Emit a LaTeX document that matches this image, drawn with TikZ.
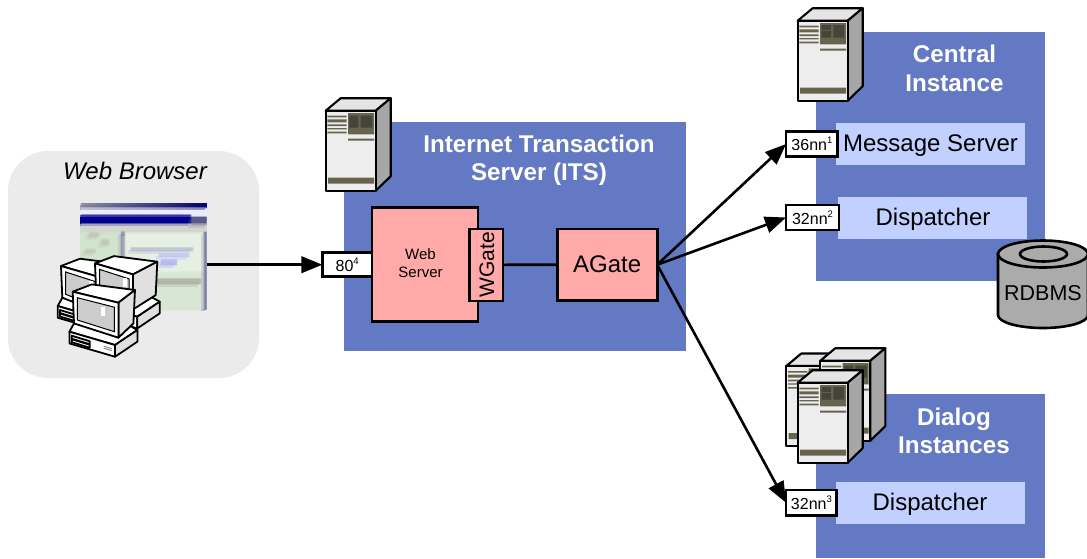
\documentclass[tikz,border=0pt]{standalone}
\usepackage{fontspec}
\setmainfont{Liberation Sans}
\usetikzlibrary{arrows.meta,calc}
\definecolor{bluebg}{HTML}{6379C4}
\definecolor{paleblue}{HTML}{C2D0FF}
\definecolor{pinkbox}{HTML}{FFA9A9}
\definecolor{greybg}{HTML}{EBEBEB}
\definecolor{olive}{HTML}{66634F}
\definecolor{olivedark}{HTML}{45443A}
\definecolor{cylgrey}{HTML}{ABABAB}
\newcommand{\fsz}[1]{\fontsize{#1}{#1}\selectfont}
\newcommand{\upnum}[1]{\raisebox{0.42em}{\fontsize{9.5}{10}\selectfont #1}}
\tikzset{
  x=1pt,y=-1pt,
  bluepanel/.style={fill=bluebg,draw=none,inner sep=0,outer sep=0},
  palebox/.style={fill=paleblue,draw=none,inner sep=0,outer sep=0},
  boxtext/.style={text=black,font=\fsz{24},inner sep=0},
  pinkbx/.style={fill=pinkbox,draw=black,line width=2.6pt,inner sep=0,outer sep=0,text=black,align=center},
  portbox/.style={fill=white,draw=black,line width=2.6pt,inner sep=0,outer sep=0,font=\fsz{16}},
  headtext/.style={text=white,font=\bfseries\fsz{24.2},align=center,inner sep=0},
  conn/.style={draw=black,line width=2.6pt},
  arrowconn/.style={conn,-{Triangle[length=21pt,width=16.5pt]}},
  srvline/.style={line width=2.1pt,draw=black,line join=round},
  pcline/.style={line width=1.8pt,draw=black,line join=round}
}
% server: #1,#2 top-left of the front face; #3 = 0 two panes, 1 three panes
\newcommand{\srv}[3]{%
\begin{scope}[shift={(#1,#2)}]
  \path[srvline,fill=black!10] (0,0)--(15,-12.5)--(65,-12.5)--(50,0)--cycle;
  \path[srvline,fill=black!35] (50,0)--(65,-12.5)--(65,65.5)--(50,80)--cycle;
  \path[srvline,fill=black!7] (0,0) rectangle (50,80);
  \fill[olive] (1.7,5) rectangle (21,6.7) (1.7,8.7) rectangle (21,11.7) (1.7,13.7) rectangle (21,15.3) (1.7,17.3) rectangle (21,18.7) (1.7,21) rectangle (21,22.7);
  \fill[olive] (22.3,2.3) rectangle (48.3,23.7) (22.3,28) rectangle (48.3,30) (2.3,67) rectangle (48.3,73);
  \ifnum#3=0
    \fill[olivedark] (23.7,5) rectangle (32.7,17) (35,5) rectangle (46.7,17);
  \else
    \fill[olivedark] (24,4.3) rectangle (33.3,9.3) (24,10.3) rectangle (33.3,17) (35.7,4.3) rectangle (46.3,17);
  \fi
\end{scope}}
% desktop computer: #1,#2 top-left corner of the monitor face; #3 face width
\newcommand{\comp}[3]{%
\begin{scope}[shift={(#1,#2)}]
  \path[pcline,fill=white] (-3.3,40)--(1.3,31.7)--(50,30)--(64.7,38.3)--(42.3,53.3)--cycle;
  \path[pcline,fill=white] (-3.3,40)--(42.3,53.3)--(42.3,65)--(-3.3,51.7)--cycle;
  \path[pcline,fill=black!12] (42.3,53.3)--(64.7,38.3)--(64.7,50)--(42.3,65)--cycle;
  \path[pcline,fill=white] (-1,44)--(17,49.5)--(17,52.5)--(-1,47)--cycle (-1,47.5)--(17,53)--(17,56)--(-1,50.5)--cycle;
  \path[line width=1pt,draw=black!45] (31,54.5)--(39,57) (31,56.5)--(39,59);
  \path[pcline,fill=white] (0,0)--(19,-7.3)--(62.3,-1.7)--(#3,11)--cycle;
  \path[pcline,fill=black!12] (#3,11)--(62.3,-1.7)--(60.7,31.7)--(#3,46)--cycle;
  \path[pcline,fill=white] (0,0)--(#3,11)--(#3,46)--(1.3,31.7)--cycle;
  \path[line width=1pt,draw=black,fill=black!20] (4.7,6)--(#3-4,15.5)--(#3-4,40)--(4.7,28.3)--cycle;
  \fill[white] (28.3,15) rectangle (32.3,24);
\end{scope}}
\newcommand{\shotbits}{%
  \fill[left color=black!30!blue!18!white,right color=blue!65!black] (80,203) rectangle (206.7,208);
  \fill[black!22!blue!8!white] (80,208) rectangle (206.7,215);
  \fill[blue!55!black] (80,215) rectangle (190,224);
  \fill[blue!30!black!65] (190,217) rectangle (206.7,226);
  \fill[olive!28!white] (80,224) rectangle (206.7,232);
  \fill[green!30!olive!25!white] (80,232) rectangle (120,310);
  \fill[olive!45!white] (88,233) rectangle (98,238) (100,240) rectangle (108,246) (84,250) rectangle (94,254);
  \fill[blue!25!black!45] (120,232) rectangle (124,272);
  \fill[green!30!olive!14!white] (124,234) rectangle (203,272);
  \fill[blue!40!black!35] (130,248) rectangle (192,252);
  \fill[blue!30!white] (158,254) rectangle (188,258);
  \fill[blue!40!white] (160,260) rectangle (176,266);
  \fill[green!30!olive!22!white] (124,272) rectangle (203,310);
  \fill[olive!65!white] (130,279) rectangle (200,285);
  \fill[blue!30!black!50] (203,232) rectangle (206.7,310);
}
\begin{document}
\begin{tikzpicture}
\useasboundingbox (0,0) rectangle (1087,558);
% browser area
\fill[greybg,rounded corners=40pt] (8,151) rectangle (259,378);
\node[text=black,font=\itshape\fsz{24},inner sep=0] (browserlabel) at (135,171) {Web Browser};
% blurred screenshot
\node[fill=green!30!olive!16!white,inner sep=0,outer sep=0,minimum width=127pt,minimum height=107pt] (shot) at (143.3,256.5) {};
\begin{scope}
  \clip (80,203) rectangle (206.7,310);
  \shotbits
  \begin{scope}[opacity=.4,shift={(2,0)}]\shotbits\end{scope}
  \begin{scope}[opacity=.4,shift={(-2,1.5)}]\shotbits\end{scope}
  \begin{scope}[opacity=.4,shift={(1,-1.5)}]\shotbits\end{scope}
\end{scope}
\comp{61}{266}{38}
\comp{95}{263.4}{38}
\comp{72.7}{291.7}{45.7}
% panels
\node[bluepanel,minimum width=342pt,minimum height=229pt] (its) at (515,236.5) {};
\node[bluepanel,minimum width=229pt,minimum height=249pt] (central) at (930.5,156.5) {};
\node[bluepanel,minimum width=229pt,minimum height=164pt] (dialog) at (930.5,476) {};
\node[headtext] (itslabel) at (539,160) {Internet Transaction\\[4pt]Server (ITS)};
\node[headtext] (centrallabel) at (954.5,68) {Central\\[5pt]Instance};
\node[headtext] (dialoglabel) at (954,431) {Dialog\\[4pt]Instances};
\node[palebox,minimum width=189pt,minimum height=42pt] (msg) at (930.5,144) {};
\node[palebox,minimum width=189pt,minimum height=42pt] (disp1) at (932.5,218) {};
\node[palebox,minimum width=189pt,minimum height=42pt] (disp2) at (930.5,503) {};
\node[boxtext] (msglabel) at (930.5,146) {Message Server};
\node[boxtext] (disp1label) at (933,219) {Dispatcher};
\node[boxtext] (disp2label) at (930,504) {Dispatcher};
% servers
\srv{325.7}{110.7}{0}
\srv{797.7}{20.7}{1}
\srv{786.3}{366}{0}
\srv{820.3}{360.7}{0}
\srv{797.7}{382.7}{1}
% ITS contents
\node[pinkbx,minimum width=106pt,minimum height=114pt] (web) at (425,264.5) {};
\node[text=black,font=\fsz{15},align=center,inner sep=0] (weblabel) at (420.5,263.5) {Web\\[3pt]Server};
\node[pinkbx,minimum width=33.5pt,minimum height=72pt] (wgate) at (486.2,264.8) {};
\node[rotate=90,text=black,font=\fsz{21},inner sep=0] (wgatelabel) at (487,264.5) {WGate};
\node[pinkbx,minimum width=100pt,minimum height=71.5pt,font=\fsz{24}] (agate) at (607.2,264.7) {AGate};
\node[portbox,minimum width=49.7pt,minimum height=24pt] (p80) at (347.2,264.7) {80\upnum{4}};
\node[portbox,minimum width=51.7pt,minimum height=25.4pt] (p36) at (811.9,144) {36nn\upnum{1}};
\node[portbox,minimum width=53pt,minimum height=25pt] (p32a) at (812.5,217.5) {32nn\upnum{2}};
\node[portbox,minimum width=50.7pt,minimum height=25.3pt] (p32b) at (811.4,502.7) {32nn\upnum{3}};
% database
\path[draw=black,line width=2.6pt,fill=cylgrey] (998,254) -- (998,315) arc[start angle=180,end angle=0,x radius=45,y radius=13] -- (1088,254) -- cycle;
\path[draw=black,line width=2.6pt,fill=cylgrey] (1043,254) ellipse[x radius=45,y radius=13.5];
\path[draw=black,line width=2.6pt,fill=cylgrey] (1043.5,254) ellipse[x radius=23.5,y radius=7.5];
\node[text=black,font=\fsz{21.5},inner sep=0] (rdbms) at (1043,293) {RDBMS};
% connectors
\draw[arrowconn] (p80.west -| shot.east) -- (p80.west);
\draw[conn] (wgate.east) -- (agate.west);
\draw[arrowconn] (agate.east) -- (p36.west);
\draw[arrowconn] (agate.east) -- (p32a.west);
\draw[arrowconn] (agate.east) -- (p32b.west);
\end{tikzpicture}
\end{document}
